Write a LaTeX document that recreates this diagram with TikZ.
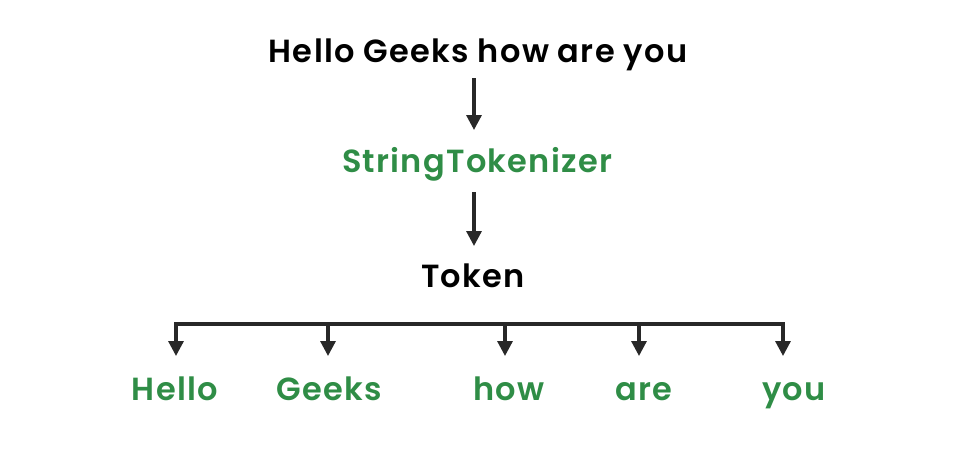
\documentclass[tikz,border=0pt]{standalone}
\usepackage{fontspec}
\setmainfont{Poppins}[BoldFont={Poppins SemiBold}, LetterSpace=4]
\usetikzlibrary{arrows.meta}
\definecolor{gfggreen}{RGB}{47,141,70}
\definecolor{linegray}{RGB}{40,40,40}
\begin{document}
\begin{tikzpicture}[x=1pt,y=-1pt,
  lbl/.style={font=\fontsize{32}{38}\selectfont\bfseries, inner sep=0pt, anchor=base},
  blk/.style={lbl, text=black},
  grn/.style={lbl, text=gfggreen},
  conn/.style={draw=linegray, line width=3.2pt, -{Triangle[width=15pt,length=15pt]}},
  bar/.style={draw=linegray, line width=3.2pt, line cap=rect}]
\useasboundingbox (0,0) rectangle (957,450);
% source string, tokenizer and result
\node[blk] (src) at (478,62) {Hello Geeks how are you};
\node[grn] (tok) at (477,172) {StringTokenizer};
\node[blk] (token) at (473,287) {Token};
% tokens
\node[grn] (w1) at (175,400) {Hello};
\node[grn] (w2) at (329,400) {Geeks};
\node[grn] (w3) at (509,400) {how};
\node[grn] (w4) at (644,400) {are};
\node[grn] (w5) at (794,400) {you};
% vertical arrows
\coordinate (a1s) at (474,78);
\coordinate (a1e) at (474,130);
\coordinate (a2s) at (474,192);
\coordinate (a2e) at (474,246);
\draw[conn] (a1s) -- (a1e);
\draw[conn] (a2s) -- (a2e);
% distribution bar
\coordinate (bl) at (176,324);
\coordinate (br) at (783,324);
\draw[bar] (bl) -- (br);
\foreach \x/\n in {176/1,328/2,505/3,639/4,783/5}{
  \coordinate (d\n) at (\x,324);
  \coordinate (t\n) at (\x,356);
  \draw[conn] (d\n) -- (t\n);
}
\end{tikzpicture}
\end{document}
